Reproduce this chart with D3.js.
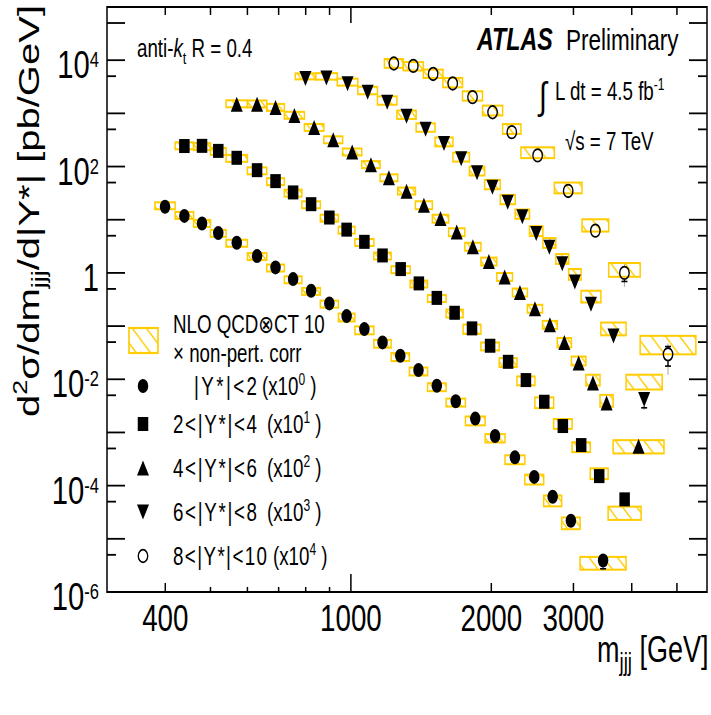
<!DOCTYPE html>
<html>
<head>
<meta charset="utf-8">
<script src="https://cdn.jsdelivr.net/npm/d3@7"></script>
<style>
  html, body { margin: 0; padding: 0; background: #fff; }
  svg { display: block; font-family: "Liberation Sans", Arial, Helvetica, "DejaVu Sans", sans-serif; }
</style>
</head>
<body>
<svg id="chart" width="711" height="715"></svg>
<script>
// ---------------- data: three-jet mass cross sections, d2sigma/dm/d|Y*| in pb/GeV ----------------
const ystarLabels = ["|Y*|<2", "2<|Y*|<4", "4<|Y*|<6", "6<|Y*|<8", "8<|Y*|<10"];
const scalePowers = [0, 1, 2, 3, 4];
const xTickValues = [400, 500, 600, 700, 800, 900, 1000, 2000, 3000, 4000, 5000];
const xTickLabels = [400, 1000, 2000, 3000];
const yTickExponents = [4, 2, 0, -2, -4, -6];

// |Y*| < 2
const y0Edges = [380, 420, 460, 500, 540, 600, 660, 720, 785, 860, 940, 1020, 1120, 1220, 1335, 1460, 1600, 1760, 1940, 2140, 2360, 2590, 2830, 3100, 3890];
const y0Data = [17.5, 11.8, 8.5, 5.6, 3.7, 2.07, 1.27, 0.765, 0.461, 0.267, 0.154, 0.0878, 0.0494, 0.0277, 0.0149, 0.00755, 0.00385, 0.00182, 0.000855, 0.00034, 0.000146, 6.18e-5, 2.19e-5, 3.9e-6];
const y0Theory = [18.5, 12.2, 8.6, 5.6, 3.65, 2.05, 1.25, 0.75, 0.455, 0.262, 0.147, 0.0845, 0.0472, 0.0265, 0.0142, 0.0072, 0.0037, 0.00168, 0.00079, 0.000312, 0.000133, 5.3e-5, 2.02e-5, 3.6e-6];
const y0TheoryErr = [0.15, 0.15, 0.15, 0.15, 0.15, 0.15, 0.15, 0.15, 0.15, 0.15, 0.17, 0.17, 0.17, 0.17, 0.17, 0.17, 0.17, 0.19, 0.18, 0.19, 0.21, 0.23, 0.25, 0.27];
const y0Stat = [0.005, 0.005, 0.005, 0.005, 0.005, 0.005, 0.005, 0.006, 0.006, 0.007, 0.008, 0.01, 0.01, 0.012, 0.015, 0.02, 0.025, 0.03, 0.04, 0.05, 0.07, 0.1, 0.14, 0.3];
const y0Syst = [0.06, 0.06, 0.06, 0.06, 0.06, 0.06, 0.06, 0.06, 0.07, 0.07, 0.07, 0.08, 0.08, 0.08, 0.09, 0.09, 0.1, 0.1, 0.11, 0.12, 0.13, 0.14, 0.15, 0.17];

// 2 < |Y*| < 4
const y1Edges = [420, 460, 500, 540, 600, 660, 720, 785, 860, 940, 1020, 1120, 1220, 1340, 1460, 1600, 1740, 1900, 2080, 2270, 2480, 2720, 2980, 3260, 3560, 4190];
const y1Data = [24.3, 24.5, 19.7, 14.6, 8.55, 5.32, 3.26, 1.96, 1.10, 0.651, 0.384, 0.213, 0.118, 0.0635, 0.0339, 0.0178, 0.00906, 0.00427, 0.00213, 0.000966, 0.000378, 0.000132, 5.79e-5, 1.51e-5, 5.52e-6];
const y1Theory = [24.8, 24.0, 19.5, 14.4, 8.4, 5.25, 3.2, 1.93, 1.08, 0.645, 0.378, 0.21, 0.116, 0.0625, 0.0333, 0.0175, 0.0089, 0.0042, 0.0021, 0.00095, 0.000372, 0.000148, 5.4e-5, 1.72e-5, 3.15e-6];
const y1TheoryErr = [0.15, 0.15, 0.15, 0.15, 0.15, 0.15, 0.15, 0.15, 0.15, 0.15, 0.15, 0.15, 0.15, 0.15, 0.15, 0.17, 0.2, 0.17, 0.19, 0.19, 0.23, 0.21, 0.21, 0.23, 0.28];
const y1Stat = [0.005, 0.005, 0.005, 0.005, 0.005, 0.005, 0.005, 0.005, 0.006, 0.007, 0.008, 0.01, 0.01, 0.012, 0.015, 0.02, 0.025, 0.03, 0.04, 0.05, 0.07, 0.1, 0.12, 0.18, 0.22];
const y1Syst = [0.06, 0.06, 0.06, 0.06, 0.06, 0.06, 0.06, 0.06, 0.07, 0.07, 0.07, 0.08, 0.08, 0.08, 0.09, 0.09, 0.1, 0.1, 0.11, 0.12, 0.13, 0.14, 0.15, 0.16, 0.17];

// 4 < |Y*| < 6
const y2Edges = [540, 600, 660, 720, 795, 875, 960, 1055, 1155, 1260, 1375, 1495, 1620, 1755, 1900, 2055, 2220, 2390, 2575, 2770, 2970, 3190, 3420, 3650, 4690];
const y2Data = [14.9, 14.9, 12.9, 9.14, 5.43, 3.18, 1.87, 1.08, 0.614, 0.345, 0.188, 0.105, 0.0585, 0.0312, 0.0164, 0.00841, 0.0043, 0.00213, 0.00106, 0.000494, 0.000202, 8.5e-5, 3.57e-5, 5.5e-6];
const y2Theory = [15.3, 15.2, 13.1, 9.3, 5.5, 3.22, 1.9, 1.1, 0.62, 0.35, 0.19, 0.106, 0.059, 0.0315, 0.0166, 0.0085, 0.00435, 0.00215, 0.00107, 0.000498, 0.000225, 9.9e-5, 4.07e-5, 5.6e-6];
const y2TheoryErr = [0.15, 0.15, 0.15, 0.15, 0.15, 0.15, 0.15, 0.15, 0.15, 0.15, 0.17, 0.17, 0.17, 0.17, 0.17, 0.17, 0.17, 0.17, 0.17, 0.2, 0.19, 0.23, 0.25, 0.28];
const y2Stat = [0.005, 0.005, 0.005, 0.005, 0.005, 0.005, 0.005, 0.005, 0.006, 0.007, 0.008, 0.01, 0.012, 0.015, 0.02, 0.025, 0.03, 0.04, 0.05, 0.07, 0.09, 0.12, 0.15, 0.22];
const y2Syst = [0.06, 0.06, 0.06, 0.06, 0.06, 0.06, 0.06, 0.06, 0.07, 0.07, 0.07, 0.08, 0.08, 0.08, 0.09, 0.09, 0.1, 0.1, 0.11, 0.12, 0.13, 0.14, 0.15, 0.17];

// 6 < |Y*| < 8
const y3Edges = [760, 840, 935, 1035, 1140, 1255, 1380, 1515, 1655, 1795, 1935, 2090, 2250, 2415, 2580, 2750, 2930, 3115, 3435, 3890, 4650];
const y3Data = [4.5, 4.6, 3.59, 2.50, 1.62, 0.879, 0.505, 0.272, 0.140, 0.0768, 0.0410, 0.0214, 0.0114, 0.00548, 0.00305, 0.00148, 0.000672, 0.000257, 6.49e-5, 4.15e-6];
const y3Theory = [5.0, 5.0, 3.91, 2.72, 1.77, 0.958, 0.55, 0.296, 0.153, 0.0837, 0.0467, 0.0244, 0.013, 0.00624, 0.00374, 0.00187, 0.000962, 0.00037, 9.18e-5, 9.3e-6];
const y3TheoryErr = [0.13, 0.14, 0.15, 0.16, 0.18, 0.18, 0.18, 0.19, 0.19, 0.19, 0.2, 0.2, 0.2, 0.21, 0.21, 0.21, 0.23, 0.25, 0.27, 0.31];
const y3Stat = [0.006, 0.006, 0.006, 0.007, 0.008, 0.009, 0.01, 0.012, 0.015, 0.018, 0.022, 0.028, 0.035, 0.045, 0.055, 0.07, 0.09, 0.12, 0.17, 0.30];
const y3Syst = [0.07, 0.07, 0.07, 0.07, 0.08, 0.08, 0.08, 0.09, 0.09, 0.1, 0.1, 0.11, 0.11, 0.12, 0.12, 0.13, 0.14, 0.15, 0.17, 0.2];

// 8 < |Y*| < 10
const y4Edges = [1180, 1295, 1430, 1575, 1735, 1915, 2115, 2315, 2730, 3130, 3570, 4170, 5490];
const y4Data = [0.867, 0.781, 0.551, 0.365, 0.202, 0.105, 0.0443, 0.0162, 0.00348, 0.000624, 0.0001, 2.95e-6];
const y4Theory = [0.886, 0.781, 0.565, 0.386, 0.217, 0.1155, 0.052, 0.0187, 0.00407, 0.000809, 0.000119, 4.75e-6];
const y4TheoryErr = [0.19, 0.18, 0.18, 0.2, 0.2, 0.21, 0.21, 0.23, 0.23, 0.26, 0.29, 0.38];
const y4Stat = [0.01, 0.01, 0.012, 0.015, 0.02, 0.025, 0.035, 0.05, 0.08, 0.15, 0.31, 0.40];
const y4Syst = [0.1, 0.1, 0.1, 0.11, 0.11, 0.12, 0.13, 0.14, 0.16, 0.2, 0.33, 0.43];

// ---------------- layout ----------------
const SX = 0.75;                 // horizontal compression of the whole figure
const GOLD = "#FFCC00";
const F = { left: 107, right: 707, top: 7, bottom: 592 };
const ix = v => v / SX;          // page x -> inner (uncompressed) x

const seriesDefs = [
  { edges: y0Edges, data: y0Data, theory: y0Theory, theoryErr: y0TheoryErr, stat: y0Stat, syst: y0Syst, marker: "circle" },
  { edges: y1Edges, data: y1Data, theory: y1Theory, theoryErr: y1TheoryErr, stat: y1Stat, syst: y1Syst, marker: "square" },
  { edges: y2Edges, data: y2Data, theory: y2Theory, theoryErr: y2TheoryErr, stat: y2Stat, syst: y2Syst, marker: "triUp" },
  { edges: y3Edges, data: y3Data, theory: y3Theory, theoryErr: y3TheoryErr, stat: y3Stat, syst: y3Syst, marker: "triDown" },
  { edges: y4Edges, data: y4Data, theory: y4Theory, theoryErr: y4TheoryErr, stat: y4Stat, syst: y4Syst, marker: "openCircle" }
];

const x = d3.scaleLog().domain([300, 5800]).range([ix(F.left), ix(F.right)]);
const y = d3.scaleLog().domain([1e-6, 1e5]).range([F.bottom, F.top]);

const bins = seriesDefs.flatMap((s, si) => s.data.map((v, i) => {
  const f = Math.pow(10, scalePowers[si]);
  const lo = s.edges[i], hi = s.edges[i + 1];
  return {
    lo, hi, m: Math.sqrt(lo * hi), v: v * f, th: s.theory[i] * f, te: s.theoryErr[i],
    st: s.stat[i], tot: Math.hypot(s.stat[i], s.syst[i]), marker: s.marker
  };
}));

const svg = d3.select("#chart");
const defs = svg.append("defs");
defs.append("pattern").attr("id", "hatch").attr("patternUnits", "userSpaceOnUse")
  .attr("width", 19).attr("height", 19)
  .append("path").attr("d", "M-5,-5L24,24M-5,14L5,24M14,-5L24,5")
  .attr("stroke", GOLD).attr("stroke-width", 1.6).attr("fill", "none");

const root = svg.append("g").attr("transform", `scale(${SX},1)`);

// ---------------- theory boxes ----------------
root.append("g").selectAll("rect").data(bins).join("rect")
  .attr("x", d => x(d.lo)).attr("width", d => x(d.hi) - x(d.lo))
  .attr("y", d => y(d.th * (1 + d.te))).attr("height", d => y(d.th * (1 - d.te)) - y(d.th * (1 + d.te)))
  .attr("fill", "url(#hatch)").attr("stroke", GOLD).attr("stroke-width", 2);

// ---------------- error bars ----------------
const RR = 7;
const errG = root.append("g");
bins.forEach(d => {
  const cx = x(d.m), cy = y(d.v);
  const draw = (e, color, w, cap) => {
    const yU = y(d.v * (1 + e)), yD = y(d.v * Math.max(1 - e, 1e-3));
    if (cy - yU > RR) {
      errG.append("line").attr("x1", cx).attr("x2", cx).attr("y1", yU).attr("y2", cy - RR).attr("stroke", color).attr("stroke-width", w);
      if (cap) errG.append("line").attr("x1", cx - 4).attr("x2", cx + 4).attr("y1", yU).attr("y2", yU).attr("stroke", color).attr("stroke-width", 1.6);
    }
    if (yD - cy > RR) {
      errG.append("line").attr("x1", cx).attr("x2", cx).attr("y1", cy + RR).attr("y2", yD).attr("stroke", color).attr("stroke-width", w);
      if (cap) errG.append("line").attr("x1", cx - 4).attr("x2", cx + 4).attr("y1", yD).attr("y2", yD).attr("stroke", color).attr("stroke-width", 1.6);
    }
  };
  draw(d.tot, "#a8a8a8", 1.4, false);
  draw(d.st, "#000", 1.8, true);
});

// ---------------- markers ----------------
function marker(g, type, cx, cy) {
  switch (type) {
    case "circle": return g.append("circle").attr("cx", cx).attr("cy", cy).attr("r", 7).attr("fill", "#000");
    case "square": return g.append("rect").attr("x", cx - 7).attr("y", cy - 7).attr("width", 14).attr("height", 14).attr("fill", "#000");
    case "triUp": return g.append("path").attr("d", `M${cx},${cy - 7.5}L${cx + 8},${cy + 7.5}L${cx - 8},${cy + 7.5}Z`).attr("fill", "#000");
    case "triDown": return g.append("path").attr("d", `M${cx - 8},${cy - 7.5}L${cx + 8},${cy - 7.5}L${cx},${cy + 7.5}Z`).attr("fill", "#000");
    case "openCircle": return g.append("circle").attr("cx", cx).attr("cy", cy).attr("r", 6.3).attr("fill", "none").attr("stroke", "#000").attr("stroke-width", 1.8);
  }
}
const mG = root.append("g");
bins.forEach(d => marker(mG, d.marker, x(d.m), y(d.v)));

// ---------------- frame and ticks ----------------
const axG = root.append("g").attr("stroke", "#000").attr("fill", "none");
axG.append("rect").attr("x", ix(F.left)).attr("y", F.top).attr("width", ix(F.right) - ix(F.left)).attr("height", F.bottom - F.top).attr("stroke-width", 2);

const yTicks = [];
for (let e = -6; e <= 4; e++) yTicks.push({ v: Math.pow(10, e), len: 18 });
for (let e = -6; e <= 3; e++) yTicks.push({ v: 5 * Math.pow(10, e), len: 9 });
yTicks.push({ v: 5e4, len: 18 });
yTicks.forEach(t => {
  const yy = y(t.v);
  axG.append("line").attr("x1", ix(F.left)).attr("x2", ix(F.left + t.len)).attr("y1", yy).attr("y2", yy).attr("stroke-width", 1.8);
  axG.append("line").attr("x1", ix(F.right)).attr("x2", ix(F.right - t.len)).attr("y1", yy).attr("y2", yy).attr("stroke-width", 1.8);
});
xTickValues.forEach(v => {
  const xx = x(v);
  const lenB = v === 1000 ? 18 : (v >= 500 && v <= 900 ? 5 : 9);
  const lenT = v === 1000 ? 16 : 8;
  axG.append("line").attr("x1", xx).attr("x2", xx).attr("y1", F.bottom).attr("y2", F.bottom - lenB).attr("stroke-width", 2);
  axG.append("line").attr("x1", xx).attr("x2", xx).attr("y1", F.top).attr("y2", F.top + lenT).attr("stroke-width", 2);
});

// ---------------- text helpers ----------------
function rich(g, px, py, parts, size, attrs = {}) {
  const t = g.append("text").attr("x", ix(px)).attr("y", py).attr("font-size", size).attr("fill", "#000");
  Object.entries(attrs).forEach(([k, v]) => t.attr(k, v));
  let cur = 0;
  parts.forEach(p => {
    const off = p.dy || 0;
    const ts = t.append("tspan").text(p.t).attr("dy", off - cur);
    if (p.size) ts.attr("font-size", p.size);
    if (p.style) ts.attr("font-style", p.style);
    if (p.weight) ts.attr("font-weight", p.weight);
    if (p.len) ts.attr("textLength", ix(p.len)).attr("lengthAdjust", "spacing");
    cur = off;
  });
  return t;
}

// y tick labels
yTickExponents.forEach(e => {
  const yy = y(Math.pow(10, e)) + 18;
  const parts = e === 0 ? [{ t: "1" }] : [{ t: "10" }, { t: String(e), size: 22, dy: -11 }];
  rich(root, 99, yy, parts, 39, { "text-anchor": "end" });
});
// x tick labels
xTickLabels.forEach(v => {
  root.append("text").attr("x", x(v)).attr("y", 631.5).attr("font-size", 37).attr("text-anchor", "middle").text(v);
});

// axis titles
rich(root, 597, 662, [{ t: "m" }, { t: "jjj", size: 25, dy: 9 }, { t: " [GeV]" }], 36);
const yTitle = root.append("g").attr("transform", `translate(${ix(39)},5) rotate(-90)`);
{
  const t = yTitle.append("text").attr("x", 0).attr("y", 0).attr("font-size", 40).attr("text-anchor", "end");
  const parts = [{ t: "d" }, { t: "2", size: 27, dy: -16 }, { t: "σ/dm" }, { t: "jjj", size: 27, dy: 9 }, { t: "/d|Y*| [pb/GeV]" }];
  let cur = 0;
  parts.forEach(p => {
    const off = p.dy || 0;
    const ts = t.append("tspan").text(p.t).attr("dy", off - cur);
    if (p.size) ts.attr("font-size", p.size);
    cur = off;
  });
}

// annotations
rich(root, 137, 57, [{ t: "anti-" }, { t: "k", style: "italic" }, { t: "t", size: 17, dy: 7 }, { t: " R = 0.4" }], 25);
rich(root, 477, 50, [{ t: "ATLAS", weight: "bold", style: "italic" }], 31);
rich(root, 566, 50, [{ t: "Preliminary" }], 30);
rich(root, 539, 109, [{ t: "∫" }], 38);
rich(root, 555, 100, [{ t: "L dt = 4.5 fb" }, { t: "-1", size: 16, dy: -10 }], 25);
rich(root, 565, 150, [{ t: "√s = 7 TeV" }], 25);

// ---------------- legend ----------------
const lg = root.append("g");
lg.append("rect").attr("x", ix(129)).attr("y", 328).attr("width", ix(158) - ix(129)).attr("height", 25)
  .attr("fill", "url(#hatch)").attr("stroke", GOLD).attr("stroke-width", 2.2);
rich(lg, 173, 333, [{ t: "NLO QCD⊗CT 10" }], 25);
rich(lg, 173, 362, [{ t: "× non-pert. corr" }], 25);
const legY = [386, 424, 468, 512, 556];
const legX1 = [194, 173, 173, 173, 173];
const legW1 = [63, 84, 84, 84, 94];
const legX2 = [262, 267, 267, 267, 273];
const legMarkers = ["circle", "square", "triUp", "triDown", "openCircle"];
ystarLabels.forEach((lab, i) => {
  marker(lg, legMarkers[i], ix(143), legY[i]);
  rich(lg, legX1[i], legY[i] + 9.5, [{ t: lab, len: legW1[i] }], 25);
  rich(lg, legX2[i], legY[i] + 9.5, [{ t: "(x10" }, { t: String(scalePowers[i]), size: 16, dy: -10 }, { t: " )" }], 25);
});
</script>
</body>
</html>
